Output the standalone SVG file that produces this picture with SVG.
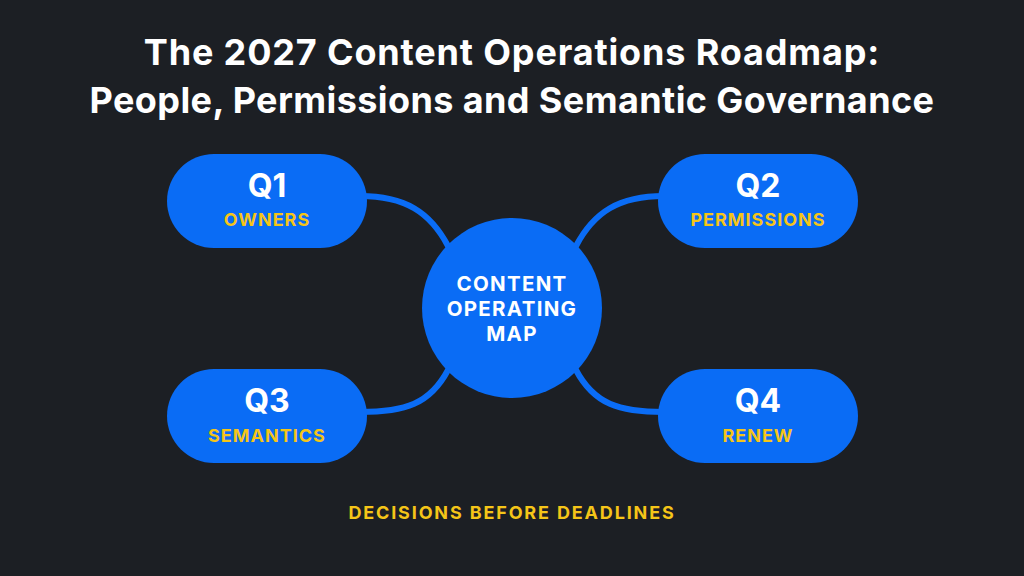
<svg xmlns="http://www.w3.org/2000/svg" width="1024" height="576" viewBox="0 0 1024 576">
<style>
.t{font-family:Inter,"Open Sans","Liberation Sans",sans-serif;font-weight:700;text-anchor:middle}
.title{font-size:36px;fill:#ffffff}
.q{font-size:32px;fill:#ffffff}
.s{font-size:18px;fill:#f5c518;letter-spacing:1px}
.c{font-size:20.5px;fill:#ffffff;letter-spacing:1.3px}
.pill{fill:#0a6cf5}
.link{fill:none;stroke:#0a6cf5;stroke-width:6;stroke-linecap:round}
</style>
<rect width="1024" height="576" fill="#1c1f24"/>
<g id="title">
<text class="t title" x="512" y="65" style="letter-spacing:0.85px">The 2027 Content Operations Roadmap:</text>
<text class="t title" x="512" y="113" style="letter-spacing:0.4px">People, Permissions and Semantic Governance</text>
</g>
<g id="connectors">
<path class="link" d="M360 196 C405 196 430 212 448 246"/>
<path class="link" d="M664 196 C619 196 594 212 576 246"/>
<path class="link" d="M360 412 C405 412 430 404 448 370"/>
<path class="link" d="M664 412 C619 412 594 404 576 370"/>
</g>
<g id="center">
<circle cx="512" cy="308" r="90" class="pill"/>
<text class="t c" x="512" y="291">CONTENT</text>
<text class="t c" x="512" y="316">OPERATING</text>
<text class="t c" x="512" y="341">MAP</text>
</g>
<g id="q1">
<rect class="pill" x="167" y="154" width="200" height="94" rx="47"/>
<text class="t q" x="267" y="197">Q1</text>
<text class="t s" x="267" y="226">OWNERS</text>
</g>
<g id="q2">
<rect class="pill" x="658" y="154" width="200" height="94" rx="47"/>
<text class="t q" x="758" y="197">Q2</text>
<text class="t s" x="758" y="226">PERMISSIONS</text>
</g>
<g id="q3">
<rect class="pill" x="167" y="369" width="200" height="94" rx="47"/>
<text class="t q" x="267" y="412">Q3</text>
<text class="t s" x="267" y="442">SEMANTICS</text>
</g>
<g id="q4">
<rect class="pill" x="658" y="369" width="200" height="94" rx="47"/>
<text class="t q" x="758" y="412">Q4</text>
<text class="t s" x="758" y="442">RENEW</text>
</g>
<g id="footer">
<text class="t s" x="512" y="519" style="letter-spacing:1.85px">DECISIONS BEFORE DEADLINES</text>
</g>
</svg>
